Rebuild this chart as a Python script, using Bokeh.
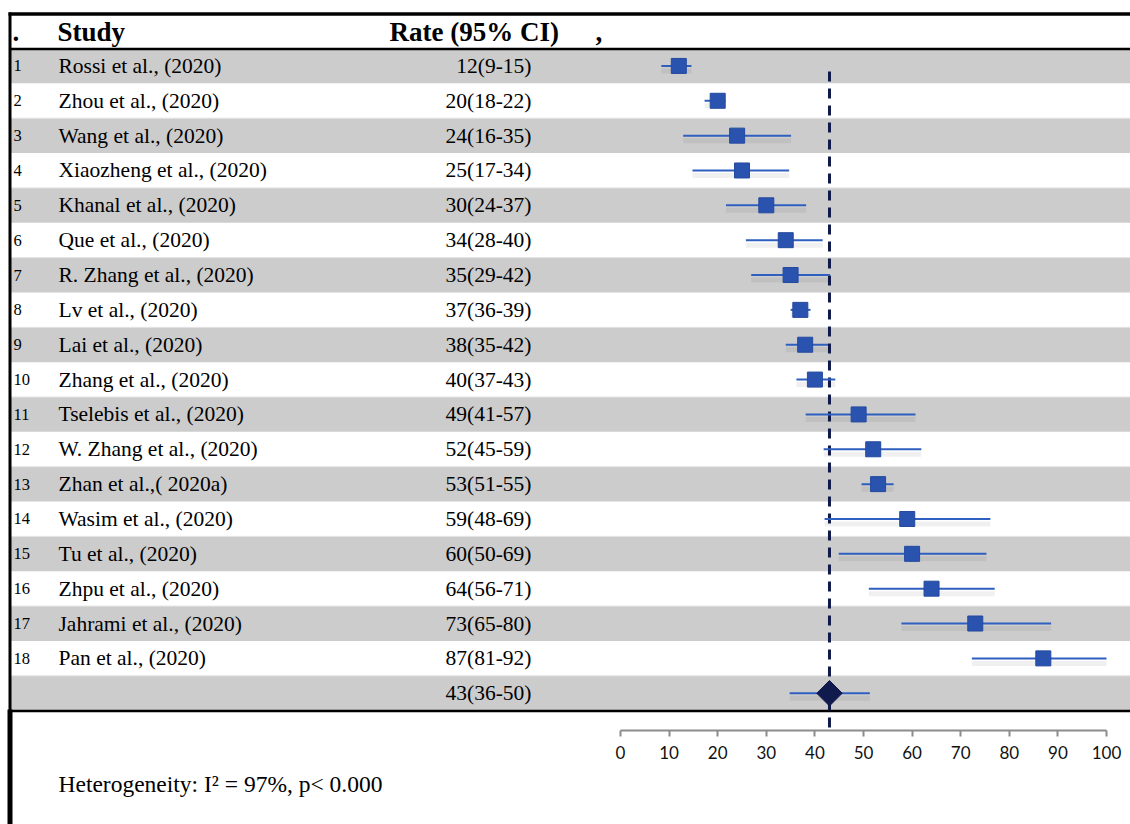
import numpy as np
from bokeh.plotting import figure
from bokeh.models import Range1d, LinearAxis, FixedTicker
from bokeh.core.properties import value
from bokeh.embed import file_html
from bokeh.resources import INLINE

# ---------------- data ----------------
row_numbers = [str(i) for i in range(1, 19)]
studies = [
    "Rossi et al., (2020)", "Zhou et al., (2020)", "Wang et al., (2020)",
    "Xiaozheng et al., (2020)", "Khanal et al., (2020)", "Que et al., (2020)",
    "R. Zhang et al., (2020)", "Lv et al., (2020)", "Lai et al., (2020)",
    "Zhang et al., (2020)", "Tselebis et al., (2020)", "W. Zhang et al., (2020)",
    "Zhan et al.,( 2020a)", "Wasim et al., (2020)", "Tu et al., (2020)",
    "Zhpu et al., (2020)", "Jahrami et al., (2020)", "Pan et al., (2020)",
]
rate_labels = [
    "12(9-15)", "20(18-22)", "24(16-35)", "25(17-34)", "30(24-37)", "34(28-40)",
    "35(29-42)", "37(36-39)", "38(35-42)", "40(37-43)", "49(41-57)", "52(45-59)",
    "53(51-55)", "59(48-69)", "60(50-69)", "64(56-71)", "73(65-80)", "87(81-92)",
]
rate = [12, 20, 24, 25, 30, 34, 35, 37, 38, 40, 49, 52, 53, 59, 60, 64, 73, 87]
# CI whiskers as drawn in the picture
ci_low = [8.4, 17.3, 12.9, 14.8, 21.7, 25.8, 26.9, 35.0, 34.0, 36.2,
          38.1, 41.8, 49.6, 42.0, 44.9, 51.1, 57.8, 72.3]
ci_high = [14.6, 21.6, 35.1, 34.7, 38.2, 41.6, 43.1, 39.1, 42.7, 44.2,
           60.7, 61.9, 56.2, 76.1, 75.3, 77.0, 88.6, 100.0]
pooled_rate = 43
pooled_label = "43(36-50)"
pooled_low = 34.8
pooled_high = 51.3
axis_ticks = [0, 10, 20, 30, 40, 50, 60, 70, 80, 90, 100]
heterogeneity = "Heterogeneity: I\u00b2 = 97%, p< 0.000"

# ---------------- layout helpers (pixels -> data units) ----------------
W, H = 1130, 824
ORIGIN_X, PX_PER_UNIT = 620.0, 4.86
ROW0_Y, ROW_H = 48.0, 34.85


def px2v(px):
    return (px - ORIGIN_X) / PX_PER_UNIT


def py2u(py):
    return (py - ROW0_Y) / ROW_H


X0, X1 = px2v(0), px2v(W)
Y_TOP, Y_BOT = py2u(0), py2u(H)

p = figure(width=W, height=H, x_range=Range1d(X0, X1), y_range=Range1d(Y_BOT, Y_TOP),
           output_backend="svg", toolbar_location=None, x_axis_type=None,
           y_axis_type=None, min_border=0, outline_line_color=None,
           background_fill_color="white", border_fill_color="white")

n = len(studies)
rows_all = n + 1
centers = [k + 0.5 for k in range(rows_all)]

# banded rows
gray_rows = [c for i, c in enumerate(centers) if i % 2 == 0]
p.hbar(y=gray_rows, height=1.0, left=px2v(10), right=X1,
       fill_color="#cccccc", line_color=None)
p.segment(x0=[px2v(10)] * len(gray_rows), x1=[X1] * len(gray_rows),
          y0=[c - 0.5 for c in gray_rows], y1=[c - 0.5 for c in gray_rows],
          line_color="#e4e4e4", line_width=1)

# frame lines
K = "#000000"
p.segment(x0=[px2v(8)], x1=[X1], y0=[py2u(13.5)], y1=[py2u(13.5)], line_color=K, line_width=3.5)
p.segment(x0=[px2v(10)], x1=[X1], y0=[py2u(48.5)], y1=[py2u(48.5)], line_color=K, line_width=2.5)
p.segment(x0=[px2v(10)], x1=[X1], y0=[py2u(710.5)], y1=[py2u(710.5)], line_color=K, line_width=2.5)
p.segment(x0=[px2v(9.5)], x1=[px2v(9.5)], y0=[py2u(12)], y1=[py2u(711)], line_color=K, line_width=3)
p.segment(x0=[px2v(9.5)], x1=[px2v(9.5)], y0=[py2u(709)], y1=[Y_BOT], line_color=K, line_width=5)

# header
serif = value("Liberation Serif")
p.text(x=[px2v(12)], y=[py2u(31)], text=["."], text_font=serif, text_font_size=value("27px"),
       text_font_style="bold", text_baseline="middle", text_color=K)
p.text(x=[px2v(57)], y=[py2u(31)], text=["Study"], text_font=serif, text_font_size=value("27px"),
       text_font_style="bold", text_baseline="middle", text_color=K)
p.text(x=[px2v(389)], y=[py2u(31)], text=["Rate (95% CI)"], text_font=serif,
       text_font_size=value("27px"), text_font_style="bold", text_baseline="middle", text_color=K)
p.text(x=[px2v(595)], y=[py2u(31)], text=[","], text_font=serif, text_font_size=value("27px"),
       text_font_style="bold", text_baseline="middle", text_color=K)

# row texts
row_c = centers[:n]
p.text(x=[px2v(13)] * n, y=row_c, text=row_numbers, text_font=serif,
       text_font_size=value("16.5px"), text_baseline="middle", text_color=K)
p.text(x=[px2v(58)] * n, y=row_c, text=studies, text_font=serif,
       text_font_size=value("21.5px"), text_baseline="middle", text_color=K)
p.text(x=[px2v(531)] * n, y=row_c, text=rate_labels, text_font=serif,
       text_font_size=value("21.5px"), text_baseline="middle", text_align="right", text_color=K)
p.text(x=[px2v(531)], y=[centers[n]], text=[pooled_label], text_font=serif,
       text_font_size=value("21.5px"), text_baseline="middle", text_align="right", text_color=K)

# reference dashed line at pooled estimate
p.segment(x0=[pooled_rate], x1=[pooled_rate], y0=[py2u(71)], y1=[py2u(731)],
          line_color="#0f1a4a", line_width=3, line_dash="10 7")

# soft shadows
sh = 5.0 / ROW_H
p.segment(x0=ci_low, x1=ci_high, y0=[c + sh for c in row_c], y1=[c + sh for c in row_c],
          line_color="#000000", line_alpha=0.06, line_width=5)
p.segment(x0=[pooled_low], x1=[pooled_high], y0=[centers[n] + sh], y1=[centers[n] + sh],
          line_color="#000000", line_alpha=0.06, line_width=5)

# CIs and points
p.segment(x0=ci_low, x1=ci_high, y0=row_c, y1=row_c, line_color="#2f5fbf", line_width=2)
p.scatter(x=rate, y=row_c, marker="square", size=15, fill_color="#2a53b0",
          line_color="#244a9e", line_width=1)
p.segment(x0=[pooled_low], x1=[pooled_high], y0=[centers[n]], y1=[centers[n]],
          line_color="#2f5fbf", line_width=2)
p.scatter(x=[pooled_rate], y=[centers[n]], marker="square", angle=np.pi / 4, size=18,
          fill_color="#111a4c", line_color="#111a4c")

# axis
ax = LinearAxis(fixed_location=py2u(730), bounds=(0, 100),
                ticker=FixedTicker(ticks=axis_ticks),
                axis_line_color="#8c8c8c", axis_line_width=2,
                major_tick_line_color="#8c8c8c", major_tick_line_width=2,
                major_tick_out=6, major_tick_in=0, minor_tick_line_color=None,
                major_label_text_font="Lato", major_label_text_font_size="17px",
                major_label_text_color="#111111", major_label_standoff=9)
p.add_layout(ax, "below")

# heterogeneity note
p.text(x=[px2v(58)], y=[py2u(783)], text=[heterogeneity], text_font=serif,
       text_font_size=value("23.5px"), text_baseline="middle", text_color=K)

open("out.html", "w").write(file_html(p, INLINE))
